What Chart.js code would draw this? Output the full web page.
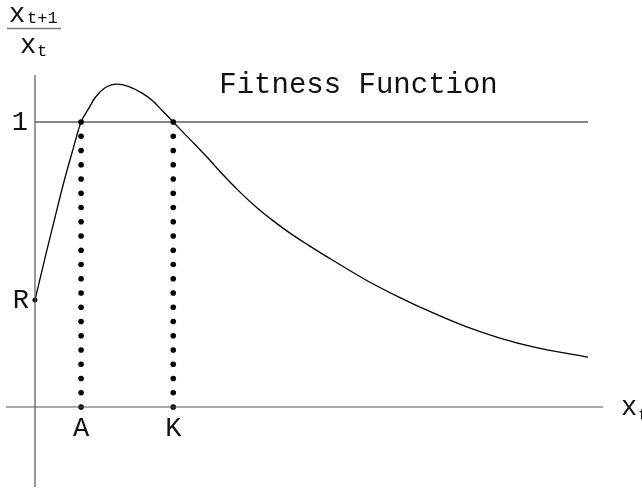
<!DOCTYPE html>
<html><head><meta charset="utf-8">
<script src="https://cdn.jsdelivr.net/npm/chart.js@4/dist/chart.umd.min.js"></script>
<style>html,body{margin:0;padding:0;background:#fff;overflow:hidden}</style></head>
<body><canvas id="c" width="642" height="491"></canvas>
<script>
// Fitness curve x_{t+1}/x_t as a function of x_t
const curveX = [0, 0.254, 0.434, 0.608, 0.803, 1.0, 1.157, 1.302, 1.519, 1.773, 2.025, 2.316, 2.533, 2.750, 3.0, 3.364, 3.726, 4.086, 4.449, 4.811, 5.171, 5.534, 5.931, 6.47, 7.2, 7.92, 8.64, 9.37, 10.09, 10.81, 12];
const curveY = [0.375, 0.548, 0.665, 0.778, 0.892, 1.0, 1.045, 1.085, 1.120, 1.133, 1.125, 1.102, 1.077, 1.042, 1.0, 0.939, 0.878, 0.814, 0.754, 0.700, 0.653, 0.610, 0.568, 0.514, 0.444, 0.384, 0.330, 0.281, 0.242, 0.211, 0.175];
const rValue = 0.375;            // curve value at x_t = 0 (labelled R)
const equilibriumY = 1;          // horizontal reference line level
const markerLabels = ['A', 'K'];
const markerX = [1.0, 3.0];
const dotLevels = [0, 0.05, 0.1, 0.15, 0.2, 0.25, 0.3, 0.35, 0.4, 0.45, 0.5, 0.55, 0.6, 0.65, 0.7, 0.75, 0.8, 0.85, 0.9, 0.95, 1.0];
const titleText = 'Fitness Function';
const xAxisLabel = ['x', 't'];
const yAxisLabelTop = ['x', 't+1'];
const yAxisLabelBottom = ['x', 't'];
const yTickLabel = '1';
const lineEndX = 12;
const xAxisExtent = [-0.63, 12.33];
const yAxisExtent = [-0.281, 1.165];

const FONT = '"Liberation Mono", "DejaVu Sans Mono", monospace';

const datasets = [];
// axes
datasets.push({data: xAxisExtent.map(x => ({x, y: 0})), borderColor: '#555', borderWidth: 1.2, pointRadius: 0, tension: 0});
datasets.push({data: yAxisExtent.map(y => ({x: 0, y})), borderColor: '#555', borderWidth: 1.2, pointRadius: 0, tension: 0});
// y = 1 line
datasets.push({data: [{x: 0, y: equilibriumY}, {x: lineEndX, y: equilibriumY}], borderColor: '#111', borderWidth: 1.2, pointRadius: 0, tension: 0});
// curve
datasets.push({data: curveX.map((x, i) => ({x, y: curveY[i]})), borderColor: '#000', borderWidth: 1.3, pointRadius: 0, cubicInterpolationMode: 'monotone'});
// dotted verticals
markerX.forEach(mx => {
  datasets.push({data: dotLevels.map(y => ({x: mx, y})), showLine: false, pointRadius: 2.8, pointBackgroundColor: '#000', pointBorderWidth: 0});
});
// R dot
datasets.push({data: [{x: 0, y: rValue}], showLine: false, pointRadius: 2.5, pointBackgroundColor: '#000', pointBorderWidth: 0});

const textPlugin = {
  id: 'texts',
  afterDraw(chart) {
    const ctx = chart.ctx, xs = chart.scales.x, ys = chart.scales.y;
    const px = v => xs.getPixelForValue(v), py = v => ys.getPixelForValue(v);
    ctx.save();
    ctx.fillStyle = '#111';
    ctx.textBaseline = 'alphabetic';
    // title
    ctx.font = '29px ' + FONT;
    ctx.textAlign = 'left';
    ctx.fillText(titleText, px(4.0), py(1.10));
    // tick 1 and R
    ctx.textAlign = 'right';
    ctx.textBaseline = 'middle';
    ctx.font = '27px ' + FONT;
    ctx.fillText(yTickLabel, px(0) - 7, py(equilibriumY) + 1);
    ctx.fillText('R', px(0) - 6, py(rValue) + 1);
    // A, K
    ctx.textAlign = 'center';
    ctx.textBaseline = 'top';
    markerLabels.forEach((l, i) => ctx.fillText(l, px(markerX[i]), py(0) + 8));
    // x_t label at right
    ctx.textAlign = 'left';
    ctx.textBaseline = 'alphabetic';
    ctx.font = '27px ' + FONT;
    ctx.fillText(xAxisLabel[0], px(0) + 586, py(0) + 8);
    ctx.font = '17px ' + FONT;
    ctx.fillText(xAxisLabel[1], px(0) + 603, py(0) + 13);
    // fraction label top-left
    ctx.font = '27px ' + FONT;
    ctx.fillText(yAxisLabelTop[0], 9, 22);
    ctx.font = '17px ' + FONT;
    ctx.fillText(yAxisLabelTop[1], 27, 23);
    ctx.strokeStyle = '#777';
    ctx.lineWidth = 1.5;
    ctx.beginPath(); ctx.moveTo(7, 28.5); ctx.lineTo(61, 28.5); ctx.stroke();
    ctx.font = '27px ' + FONT;
    ctx.fillText(yAxisLabelBottom[0], 20, 53);
    ctx.font = '17px ' + FONT;
    ctx.fillText(yAxisLabelBottom[1], 37, 56);
    ctx.restore();
  }
};

new Chart(document.getElementById('c'), {
  type: 'line',
  data: {datasets},
  options: {
    responsive: false,
    animation: false,
    devicePixelRatio: 1,
    layout: {padding: 0, autoPadding: false},
    plugins: {legend: {display: false}, tooltip: {enabled: false}},
    scales: {
      x: {type: 'linear', min: -0.7595, max: 13.173, display: false},
      y: {type: 'linear', min: -0.2947, max: 1.428, display: false}
    },
    elements: {line: {fill: false}}
  },
  plugins: [textPlugin]
});
</script>
</body></html>
